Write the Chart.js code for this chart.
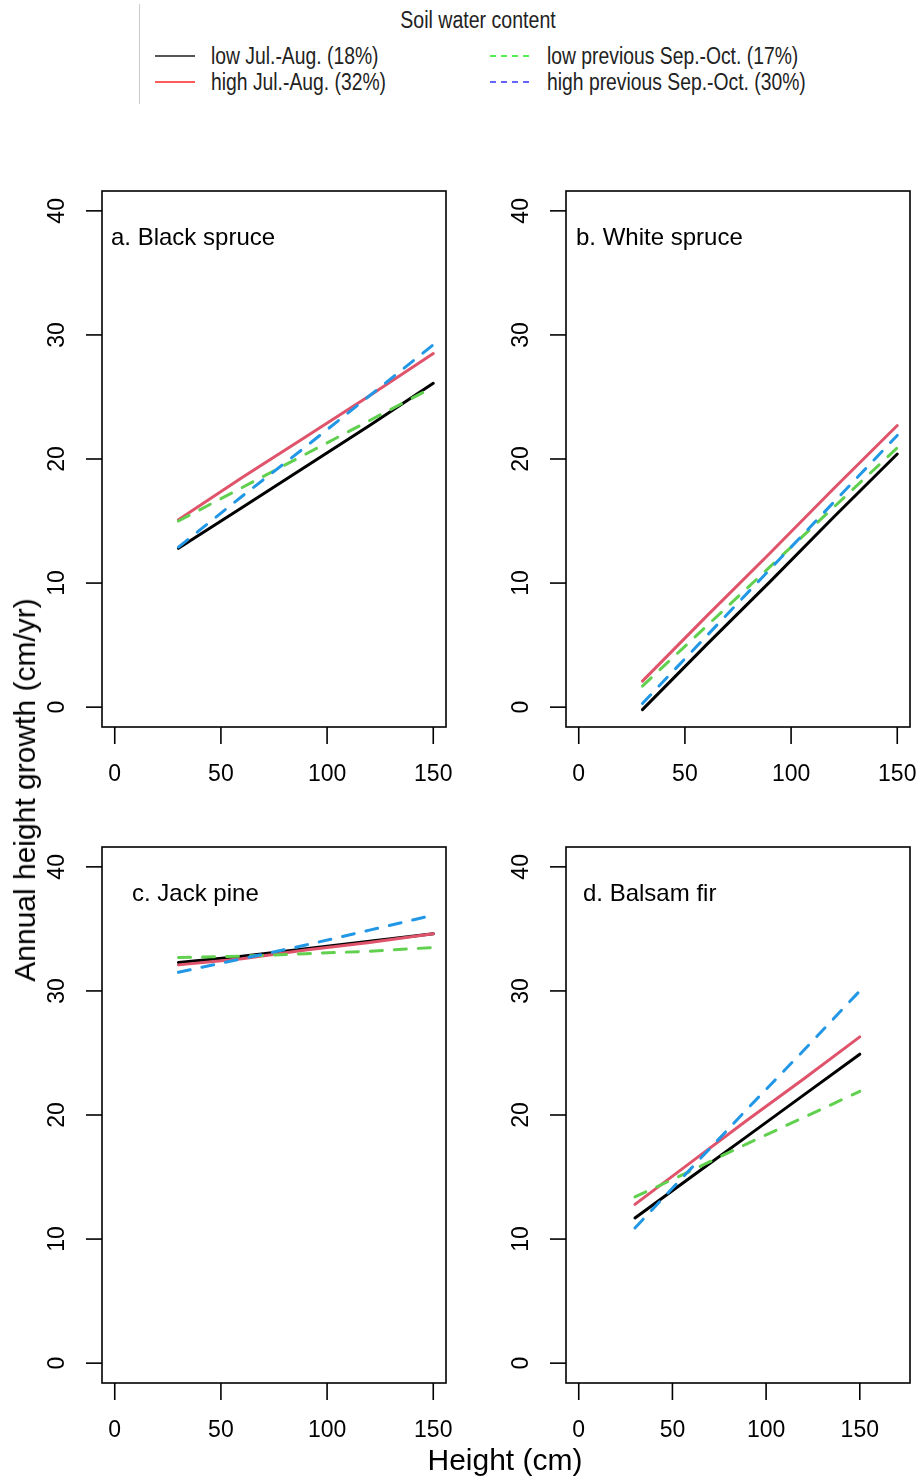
<!DOCTYPE html>
<html>
<head>
<meta charset="utf-8">
<script src="https://cdn.jsdelivr.net/npm/chart.js@4"></script>
<style>
  body { margin: 0; background: #fff; width: 917px; height: 1479px; position: relative; overflow: hidden;
         font-family: "Liberation Sans", Arial, sans-serif; color: #000; }
  canvas { position: absolute; }
  .txt { position: absolute; white-space: nowrap; line-height: 1; }
  .leg { font-size: 23px; color: #222; transform-origin: 0 50%; }
  .key { position: absolute; height: 2px; width: 40px; }
</style>
</head>
<body>

<div style="position:absolute;left:139px;top:4px;width:1px;height:100px;background:#ccc"></div>
<div class="txt leg" style="left:478px;top:20px;transform-origin:50% 50%;transform:translate(-50%,-50%) scaleX(0.85)">Soil water content</div>
<div id="legend"></div>

<canvas id="pa" width="452" height="616" style="left:0px;top:181px"></canvas>
<canvas id="pb" width="452" height="616" style="left:464px;top:181px"></canvas>
<canvas id="pc" width="452" height="616" style="left:0px;top:837px"></canvas>
<canvas id="pd" width="452" height="616" style="left:464px;top:837px"></canvas>

<div class="txt" style="left:25px;top:790px;font-size:30px;transform:translate(-50%,-50%) rotate(-90deg)">Annual height growth (cm/yr)</div>
<div class="txt" style="left:505px;top:1460px;font-size:30px;transform:translate(-50%,-50%)">Height (cm)</div>

<script>
// tree height (cm) where each fitted curve was read
const heights = [30, 60, 90, 120, 150];

const seriesNames = ['low Jul.-Aug. (18%)', 'high Jul.-Aug. (32%)',
                     'low previous Sep.-Oct. (17%)', 'high previous Sep.-Oct. (30%)'];
const lineColors = ['#000000', '#DF536B', '#61D04F', '#2297E6'];
const keyColors = ['#555555', '#ff5c5c', '#55ee55', '#6464ff'];

// annual height growth (cm/yr), one list per series in the order above
const blackSpruce = [
  [12.8, 16.1, 19.4, 22.7, 26.1],
  [15.1, 18.5, 21.8, 25.1, 28.5],
  [15.0, 17.7, 20.4, 23.1, 25.8],
  [12.9, 17.0, 21.0, 25.1, 29.2]
];
const whiteSpruce = [
  [-0.2, 5.0, 10.1, 15.3, 20.4],
  [2.1, 7.3, 12.4, 17.6, 22.7],
  [1.7, 6.5, 11.3, 16.1, 20.9],
  [0.3, 5.7, 11.1, 16.5, 21.9]
];
const jackPine = [
  [32.3, 32.8, 33.4, 34.0, 34.6],
  [32.1, 32.6, 33.3, 33.9, 34.6],
  [32.7, 32.8, 33.0, 33.2, 33.5],
  [31.5, 32.6, 33.7, 34.9, 36.1]
];
const balsamFir = [
  [11.7, 15.0, 18.3, 21.6, 24.9],
  [12.8, 16.2, 19.6, 22.9, 26.3],
  [13.4, 15.5, 17.7, 19.8, 21.9],
  [10.9, 15.7, 20.5, 25.2, 30.0]
];

const xTicks = [0, 50, 100, 150];
const yTicks = [0, 10, 20, 30, 40];

// legend (two columns, two rows)
const legend = document.getElementById('legend');
seriesNames.forEach((name, i) => {
  const col = i < 2 ? 0 : 1, row = i % 2;
  const lx = col ? 490 : 155, tx = col ? 547 : 211, y = row ? 82 : 56;
  const key = document.createElement('div');
  key.className = 'key';
  key.style.left = lx + 'px';
  key.style.top = (y - 1) + 'px';
  key.style.background = i < 2 ? keyColors[i]
    : 'repeating-linear-gradient(90deg,' + keyColors[i] + ' 0 6px, transparent 6px 11px)';
  legend.appendChild(key);
  const t = document.createElement('div');
  t.className = 'txt leg';
  t.style.left = tx + 'px';
  t.style.top = y + 'px';
  t.style.transform = 'translateY(-50%) scaleX(0.84)';
  t.textContent = name;
  legend.appendChild(t);
});

// R-like axes drawn from the chart's own scales
const rAxes = {
  id: 'rAxes',
  afterDraw(chart, args, opts) {
    const ctx = chart.ctx, a = chart.chartArea;
    const xs = chart.scales.x, ys = chart.scales.y;
    ctx.save();
    ctx.strokeStyle = '#000';
    ctx.fillStyle = '#000';
    ctx.lineWidth = 1.6;
    ctx.strokeRect(a.left, a.top, a.right - a.left, a.bottom - a.top);
    ctx.font = '23px "Liberation Sans", Arial, sans-serif';
    ctx.textAlign = 'center';
    ctx.textBaseline = 'middle';
    xTicks.forEach(v => {
      const px = xs.getPixelForValue(v);
      ctx.beginPath();
      ctx.moveTo(px, a.bottom);
      ctx.lineTo(px, a.bottom + 17);
      ctx.stroke();
      ctx.fillText(String(v), px, a.bottom + 48);
    });
    yTicks.forEach(v => {
      const py = ys.getPixelForValue(v);
      ctx.beginPath();
      ctx.moveTo(a.left - 16, py);
      ctx.lineTo(a.left, py);
      ctx.stroke();
      ctx.save();
      ctx.translate(a.left - 44, py);
      ctx.rotate(-Math.PI / 2);
      ctx.fillText(String(v), 0, 0);
      ctx.restore();
    });
    ctx.font = '24px "Liberation Sans", Arial, sans-serif';
    ctx.textAlign = 'left';
    ctx.fillText(opts.title, a.left + opts.titleX, a.top + 47);
    ctx.restore();
  }
};

function panel(id, title, titleX, values, xMax) {
  new Chart(document.getElementById(id), {
    type: 'line',
    data: {
      datasets: values.map((v, i) => ({
        label: seriesNames[i],
        data: heights.map((h, j) => ({ x: h, y: v[j] })),
        borderColor: lineColors[i],
        borderWidth: 3,
        borderDash: i < 2 ? [] : [12, 12],
        borderCapStyle: 'round',
        pointRadius: 0,
        tension: 0,
        fill: false,
        order: 3 - i
      }))
    },
    options: {
      responsive: false,
      animation: false,
      events: [],
      layout: { padding: { left: 102, right: 6, top: 10, bottom: 70 } },
      scales: {
        x: { type: 'linear', display: false, min: -0.04 * xMax, max: 1.04 * xMax },
        y: { type: 'linear', display: false, min: -1.6, max: 41.6 }
      },
      plugins: {
        legend: { display: false },
        tooltip: { enabled: false },
        rAxes: { title: title, titleX: titleX }
      }
    },
    plugins: [rAxes]
  });
}

panel('pa', 'a. Black spruce', 9, blackSpruce, 150);
panel('pb', 'b. White spruce', 10, whiteSpruce, 150);
panel('pc', 'c. Jack pine', 30, jackPine, 150);
panel('pd', 'd. Balsam fir', 17, balsamFir, 170);
</script>
</body>
</html>
